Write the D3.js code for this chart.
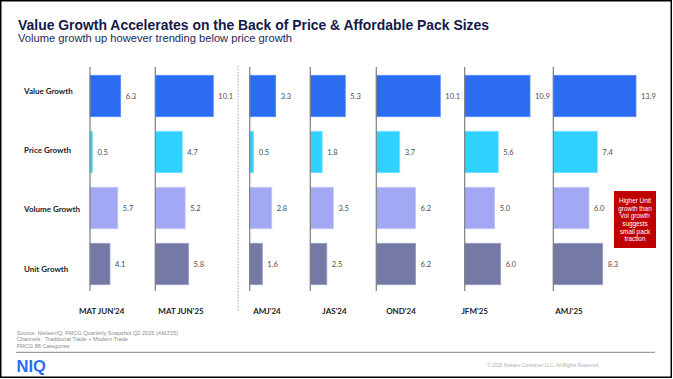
<!DOCTYPE html>
<html><head><meta charset="utf-8">
<script src="https://cdn.jsdelivr.net/npm/d3@7"></script>
<style>html,body{margin:0;padding:0;background:#fff;}svg{display:block;}</style>
</head><body>
<script>
// ---- data ----
const periods = ["MAT JUN'24","MAT JUN'25","AMJ'24","JAS'24","OND'24","JFM'25","AMJ'25"];
const metrics = ["Value Growth","Price Growth","Volume Growth","Unit Growth"];
const valueGrowth  = [6.3, 10.1, 3.3, 5.3, 10.1, 10.9, 13.9];
const priceGrowth  = [0.5, 4.7, 0.5, 1.8, 3.7, 5.6, 7.4];
const volumeGrowth = [5.7, 5.2, 2.8, 3.5, 6.2, 5.0, 6.0];
const unitGrowth   = [4.1, 5.8, 1.6, 2.5, 6.2, 6.0, 8.3];
const title = "Value Growth Accelerates on the Back of Price & Affordable Pack Sizes";
const subtitle = "Volume growth up however trending below price growth";
const noteLines = ["Higher Unit","growth than","Vol growth","suggests","small pack","traction"];
const sourceLines = ["Source: NielsenIQ, FMCG Quarterly Snapshot Q2 2025 (AMJ'25)","Channels : Traditional Trade + Modern Trade","FMCG 88 Categories"];
const copyright = "\u00A9 2025 Nielsen Consumer LLC. All Rights Reserved.";

// ---- layout (not data) ----
const panelAxisX = [90, 155.3, 249.7, 310.3, 376.3, 464.7, 553.3];
const panelMaxPx = [30.7, 58, 26, 35, 64, 65.3, 82.7];
const panelLabelX = [101.7, 181, 267, 334.5, 401, 474.7, 569];
const colors = ["#2b6cf0","#30d0ff","#a3a8f5","#7579a6"];
const strokes = ["#5a8df5","#7fe2ff","#c3c6f9","#9a9dc2"];

const W = 673, H = 379;
const svg = d3.select("body").append("svg").attr("width", W).attr("height", H);
svg.append("rect").attr("width", W).attr("height", H).attr("fill", "#fff");

const series = [valueGrowth, priceGrowth, volumeGrowth, unitGrowth];

// title
svg.append("text").attr("x", 18).attr("y", 30).text(title)
  .attr("font-family", "Liberation Sans, Arial, sans-serif").attr("font-weight", "bold")
  .attr("font-size", 14).attr("fill", "#131a4a")
  .attr("textLength", 471).attr("lengthAdjust", "spacingAndGlyphs");
svg.append("text").attr("x", 18).attr("y", 42).text(subtitle)
  .attr("font-family", "Liberation Sans, Arial, sans-serif")
  .attr("font-size", 11.5).attr("fill", "#1f2858")
  .attr("textLength", 274).attr("lengthAdjust", "spacingAndGlyphs");

// row scale
const y = d3.scaleBand().domain(metrics).range([68, 292]).paddingInner(0.26).paddingOuter(0.13);
const yLab = d3.scalePoint().domain(metrics).range([91, 269]);

// row labels
svg.append("g").selectAll("text").data(metrics).join("text")
  .attr("x", 24).attr("y", d => yLab(d)).attr("dy", "0.35em")
  .attr("font-family", "Lato, Carlito, sans-serif").attr("font-weight", "bold")
  .attr("font-size", 8).attr("fill", "#1a1a1a").text(d => d);

// panels
periods.forEach((p, i) => {
  const vals = metrics.map((m, k) => ({m, k, v: series[k][i]}));
  const x = d3.scaleLinear().domain([0, d3.max(vals, d => d.v)]).range([0, panelMaxPx[i]]);
  const g = svg.append("g").attr("transform", `translate(${panelAxisX[i]},0)`);
  g.selectAll("rect").data(vals).join("rect")
    .attr("x", 0).attr("y", d => y(d.m))
    .attr("width", d => x(d.v)).attr("height", y.bandwidth())
    .attr("fill", d => colors[d.k]).attr("stroke", d => strokes[d.k]).attr("stroke-width", 0.8);
  g.selectAll("text.val").data(vals).join("text").attr("class", "val")
    .attr("x", d => x(d.v) + 5).attr("y", d => y(d.m) + y.bandwidth() / 2).attr("dy", "0.35em")
    .attr("font-family", "Lato, Carlito, sans-serif").attr("font-size", 7.5)
    .attr("fill", "#4d4d4d").text(d => d.v.toFixed(1));
  // axis line
  const axis = d3.axisLeft(y).tickSize(0).tickFormat("");
  const ag = g.append("g").call(axis);
  ag.select(".domain").attr("stroke", "#7f7f7f").attr("stroke-width", 1.2).attr("d", "M0,67V291");
  // column label
  svg.append("text").attr("x", panelLabelX[i]).attr("y", 310.7).attr("dy", "0.35em")
    .attr("text-anchor", "middle").attr("font-family", "Lato, Carlito, sans-serif")
    .attr("font-weight", "bold").attr("font-size", 8).attr("fill", "#1a1a1a").text(p);
});

// dotted separator
svg.append("line").attr("x1", 238).attr("x2", 238).attr("y1", 66).attr("y2", 311)
  .attr("stroke", "#a6a6a6").attr("stroke-width", 1).attr("stroke-dasharray", "1.5,1.5");

// note box
svg.append("rect").attr("x", 614).attr("y", 191).attr("width", 42).attr("height", 57).attr("fill", "#c00000");
svg.append("g").selectAll("text").data(noteLines).join("text")
  .attr("x", 635).attr("y", (d, i) => 200.7 + i * 7.65).attr("dy", "0.35em")
  .attr("text-anchor", "middle").attr("font-family", "Liberation Sans, Arial, sans-serif")
  .attr("font-size", 6.4).attr("fill", "#fff").text(d => d);

// source
svg.append("g").selectAll("text").data(sourceLines).join("text")
  .attr("x", 16.7).attr("y", (d, i) => 332.7 + i * 6.7).attr("dy", "0.35em")
  .attr("font-family", "Liberation Sans, Arial, sans-serif")
  .attr("font-size", 5.6).attr("fill", "#8c8c8c").text(d => d);

svg.append("line").attr("x1", 16).attr("x2", 655).attr("y1", 352.3).attr("y2", 352.3)
  .attr("stroke", "#8a8a8a").attr("stroke-width", 1);

svg.append("text").attr("x", 16.5).attr("y", 371.5).text("NIQ")
  .attr("font-family", "Liberation Sans, Arial, sans-serif").attr("font-weight", "bold")
  .attr("font-size", 16.5).attr("fill", "#2b6ef5");

svg.append("text").attr("x", 487).attr("y", 365.3).attr("dy", "0.35em").text(copyright)
  .attr("font-family", "Liberation Sans, Arial, sans-serif")
  .attr("font-size", 4.8).attr("fill", "#b0b0b0");

// slide frame
svg.append("rect").attr("x", 0.75).attr("y", 0.75).attr("width", W - 2.5).attr("height", H - 2.5)
  .attr("fill", "none").attr("stroke", "#000").attr("stroke-width", 1.5);
</script>
</body></html>
